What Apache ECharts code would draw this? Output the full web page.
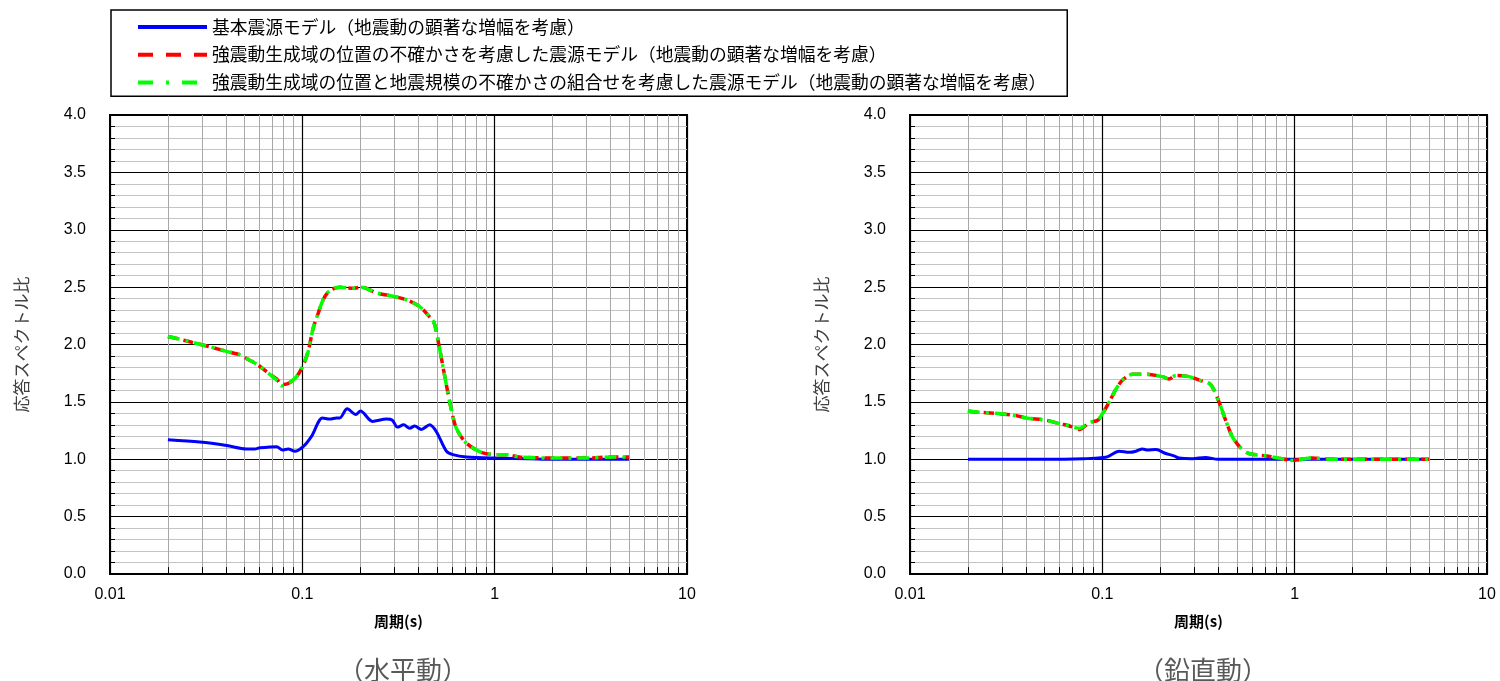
<!DOCTYPE html>
<html>
<head>
<meta charset="utf-8">
<script src="https://cdn.jsdelivr.net/npm/echarts@6/dist/echarts.min.js"></script>
<style>html,body{margin:0;padding:0;background:#fff;}#c{width:1500px;height:681px;}</style>
</head>
<body>
<div id="c"></div>
<script>
// ---- labels ----
const seriesNames = [
  '基本震源モデル（地震動の顕著な増幅を考慮）',
  '強震動生成域の位置の不確かさを考慮した震源モデル（地震動の顕著な増幅を考慮）',
  '強震動生成域の位置と地震規模の不確かさの組合せを考慮した震源モデル（地震動の顕著な増幅を考慮）'
];
const panelTitles = ['（水平動）', '（鉛直動）'];
const xAxisTitle = '周期(s)';
const yAxisTitle = '応答スペクトル比';
const xTickLabels = ['0.01', '0.1', '1', '10'];
const yTickValues = [0, 0.5, 1, 1.5, 2, 2.5, 3, 3.5, 4];
const minorPeriods = [0.02,0.03,0.04,0.05,0.06,0.07,0.08,0.09,0.2,0.3,0.4,0.5,0.6,0.7,0.8,0.9,2,3,4,5,6,7,8,9];

// ---- horizontal (水平動) ----
const hBaseT = [0.02,0.0293,0.0404,0.0513,0.0566,0.0601,0.0735,0.0789,0.0844,0.0914,0.101,0.1116,0.1273,0.139,0.1506,0.1566,0.171,0.1897,0.2006,0.2317,0.2737,0.2939,0.3119,0.3367,0.3615,0.3837,0.4158,0.4592,0.4977,0.561,0.607,0.713,1.02,1.5,2.0,3.0,5.0];
const hBaseV = [1.17,1.15,1.12,1.09,1.09,1.10,1.11,1.08,1.09,1.07,1.11,1.20,1.36,1.35,1.36,1.36,1.44,1.39,1.42,1.33,1.35,1.34,1.28,1.30,1.27,1.29,1.26,1.30,1.24,1.07,1.04,1.02,1.01,1.005,1.0,1.0,1.0];
const hUncT = [0.02,0.0226,0.0266,0.033,0.0404,0.0474,0.0523,0.059,0.0678,0.0735,0.078,0.0844,0.0933,0.101,0.1072,0.1138,0.1208,0.1283,0.139,0.1566,0.1836,0.2029,0.2428,0.296,0.3473,0.4077,0.4592,0.484,0.507,0.538,0.571,0.596,0.632,0.713,0.853,1.02,1.15,1.35,2.01,2.99,4.12,5.0];
const hLocV = [2.07,2.05,2.02,1.98,1.94,1.91,1.87,1.82,1.74,1.70,1.65,1.66,1.72,1.82,1.94,2.14,2.27,2.39,2.47,2.50,2.49,2.50,2.45,2.42,2.39,2.33,2.24,2.19,2.04,1.81,1.58,1.43,1.27,1.14,1.06,1.04,1.04,1.02,1.01,1.01,1.02,1.02];
const hComV = [2.07,2.05,2.02,1.98,1.94,1.91,1.87,1.82,1.74,1.69,1.64,1.66,1.72,1.82,1.94,2.14,2.27,2.39,2.47,2.50,2.49,2.50,2.45,2.42,2.39,2.33,2.24,2.19,2.04,1.81,1.58,1.43,1.27,1.14,1.06,1.04,1.04,1.02,1.01,1.01,1.02,1.02];

// ---- vertical (鉛直動) ----
const vBaseT = [0.02,0.05,0.08,0.1,0.1059,0.1225,0.138,0.1496,0.1618,0.1718,0.1898,0.2138,0.236,0.2506,0.294,0.344,0.4,1.0,5.0];
const vBaseV = [1.0,1.0,1.005,1.015,1.02,1.07,1.06,1.07,1.09,1.08,1.085,1.05,1.03,1.01,1.005,1.015,1.0,1.0,1.0];
const vUncT = [0.02,0.0226,0.0281,0.0357,0.0402,0.0511,0.0599,0.0675,0.076,0.0857,0.0946,0.1004,0.1087,0.1177,0.1274,0.1436,0.1683,0.2052,0.2222,0.241,0.2825,0.3184,0.3659,0.404,0.4375,0.473,0.523,0.578,0.705,0.826,0.968,1.23,1.56,2.72,5.0];
const vLocV = [1.42,1.41,1.40,1.38,1.36,1.34,1.31,1.29,1.26,1.32,1.34,1.40,1.50,1.61,1.69,1.74,1.74,1.72,1.70,1.73,1.72,1.69,1.65,1.50,1.34,1.20,1.10,1.05,1.03,1.01,0.99,1.01,1.00,1.00,1.00];
const vComV = [1.42,1.41,1.40,1.38,1.36,1.34,1.31,1.29,1.27,1.32,1.34,1.40,1.50,1.61,1.69,1.74,1.74,1.72,1.70,1.73,1.72,1.69,1.65,1.50,1.34,1.20,1.10,1.05,1.03,1.01,0.99,1.01,1.00,1.00,1.00];

const zip = (t, v) => t.map((x, i) => [x, v[i]]);

const JP = '"Noto Sans CJK JP", "Noto Sans", sans-serif';
const NUM = '"Liberation Sans", Arial, sans-serif';

function xAx(idx) {
  return {
    type: 'log', logBase: 10, min: 0.01, max: 10, gridIndex: idx,
    name: xAxisTitle, nameLocation: 'middle', nameGap: 40,
    nameTextStyle: { fontFamily: JP, fontSize: 15, fontWeight: 'bold', color: '#000' },
    axisLine: { show: true, lineStyle: { color: '#000', width: 2 } },
    axisTick: { show: true, inside: true, length: 8, lineStyle: { color: '#000', width: 1 } },
    axisLabel: { margin: 13, fontFamily: NUM, fontSize: 16, color: '#000',
      formatter: v => { const e = Math.round(Math.log10(v)) + 2; return xTickLabels[e] !== undefined ? xTickLabels[e] : ''; } },
    splitLine: { show: true, lineStyle: { color: '#000', width: 1.2 } }
  };
}
function yAx(idx) {
  return {
    type: 'value', min: 0, max: 4, interval: 0.5, gridIndex: idx,
    name: yAxisTitle, nameLocation: 'middle', nameGap: 80,
    nameTextStyle: { fontFamily: JP, fontSize: 17, color: '#404040' },
    axisLine: { show: true, lineStyle: { color: '#000', width: 2 } },
    axisTick: { show: true, inside: true, length: 8, lineStyle: { color: '#000', width: 1 } },
    minorTick: { show: true, splitNumber: 5, length: 5, lineStyle: { color: '#000', width: 1 } },
    minorSplitLine: { show: true, lineStyle: { color: '#c4c4c4', width: 1 } },
    axisLabel: { margin: 24, fontFamily: NUM, fontSize: 16, color: '#000',
      formatter: v => yTickValues.indexOf(v) >= 0 ? v.toFixed(1) : '' },
    splitLine: { show: true, lineStyle: { color: '#000', width: 1.2 } }
  };
}

const styles = [
  { color: '#0000FF', width: 3, type: 'solid' },
  { color: '#FF0000', width: 3.5, type: [10, 6] },
  { color: '#00FF00', width: 3.5, type: [12, 6, 3, 6] }
];
const legendDash = ['solid', [15, 13], [15, 13, 3, 13]];

function panelSeries(idx, sets) {
  const out = [{
    type: 'line', xAxisIndex: idx, yAxisIndex: idx, data: [], silent: true, z: 1,
    markLine: {
      silent: true, symbol: ['none', 'none'], z: 1, animation: false,
      label: { show: false },
      lineStyle: { color: '#a8a8a8', width: 1, type: 'solid' },
      emphasis: { disabled: true },
      data: minorPeriods.map(p => ({ xAxis: p }))
    }
  }, {
    type: 'line', xAxisIndex: idx, yAxisIndex: idx, data: [], silent: true, z: 2,
    markLine: {
      silent: true, symbol: ['none', 'none'], z: 2, animation: false,
      label: { show: false },
      lineStyle: { color: '#000', width: 1, type: 'solid' },
      emphasis: { disabled: true },
      data: minorPeriods.map(p => [{ coord: [p, 0] }, { coord: [p, 0.06] }])
    }
  }];
  sets.forEach((d, i) => {
    out.push({
      name: seriesNames[i], type: 'line', xAxisIndex: idx, yAxisIndex: idx,
      data: d, symbol: 'none', smooth: 0.3, z: 3 + i,
      lineStyle: styles[i], itemStyle: { color: styles[i].color },
      emphasis: { disabled: true }
    });
  });
  return out;
}

const chart = echarts.init(document.getElementById('c'), null, { renderer: 'canvas' });
chart.setOption({
  animation: false,
  backgroundColor: '#fff',
  title: [
    { text: panelTitles[0], left: 398, top: 652, textAlign: 'center',
      textStyle: { fontFamily: JP, fontSize: 26, fontWeight: 'normal', color: '#595959' } },
    { text: panelTitles[1], left: 1198, top: 652, textAlign: 'center',
      textStyle: { fontFamily: JP, fontSize: 26, fontWeight: 'normal', color: '#595959' } }
  ],
  legend: {
    data: seriesNames.map((n, i) => ({ name: n, lineStyle: { width: 4, type: legendDash[i], color: styles[i].color } })),
    orient: 'vertical', left: 111, top: 10,
    padding: [8, 21, 5, 25], itemGap: 10, itemWidth: 69, itemHeight: 14,
    borderColor: '#000', borderWidth: 1.5, backgroundColor: '#fff',
    itemStyle: { opacity: 0 },
    textStyle: { fontFamily: JP, fontSize: 17.75, color: '#000' },
    selectedMode: false
  },
  grid: [
    { left: 110, right: 813, top: 115, bottom: 107, show: true, borderColor: '#000', borderWidth: 2, backgroundColor: 'transparent' },
    { left: 910, right: 13, top: 115, bottom: 107, show: true, borderColor: '#000', borderWidth: 2, backgroundColor: 'transparent' }
  ],
  xAxis: [xAx(0), xAx(1)],
  yAxis: [yAx(0), yAx(1)],
  series: [
    ...panelSeries(0, [zip(hBaseT, hBaseV), zip(hUncT, hLocV), zip(hUncT, hComV)]),
    ...panelSeries(1, [zip(vBaseT, vBaseV), zip(vUncT, vLocV), zip(vUncT, vComV)])
  ]
});
</script>
</body>
</html>
